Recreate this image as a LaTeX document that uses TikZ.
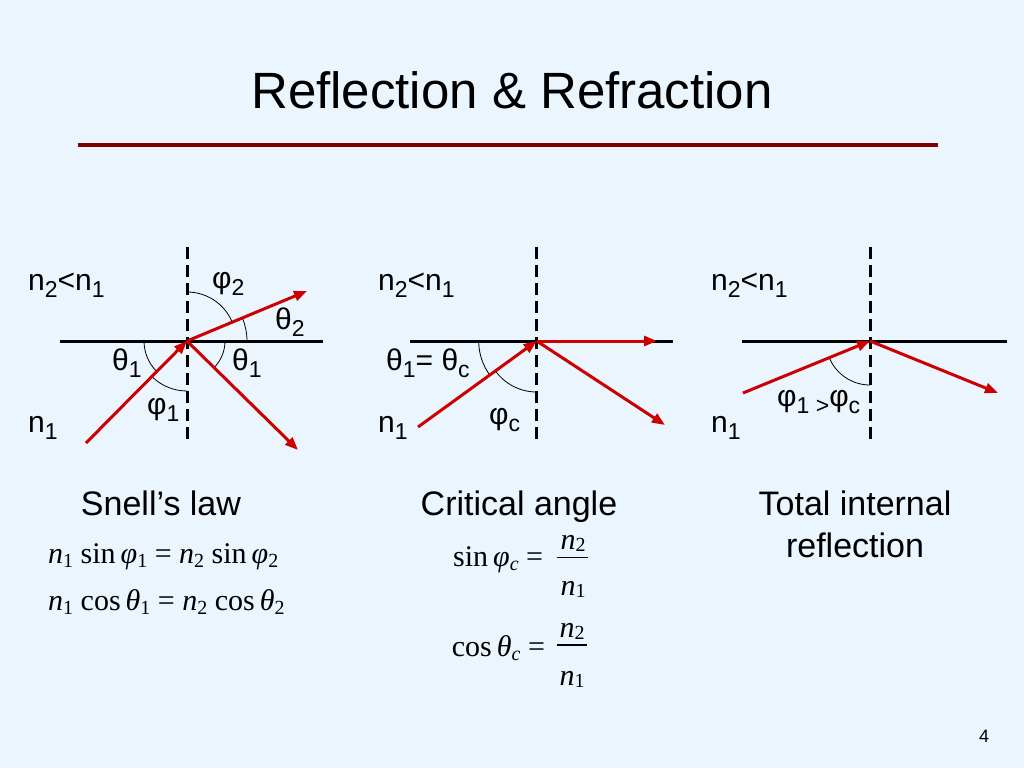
\documentclass[tikz,border=0pt]{standalone}
\usepackage{fontspec}
\usepackage{amsmath}
\setmainfont{Liberation Sans}
\newfontfamily\serifm{Liberation Serif}
\usetikzlibrary{arrows.meta}
\definecolor{bgblue}{RGB}{234,245,253}
\definecolor{rayred}{RGB}{204,0,0}
\definecolor{titlered}{RGB}{128,0,0}
\newcommand{\lsub}[1]{\raisebox{-7pt}{\fontsize{23}{23}\selectfont #1}}
\newcommand{\fsub}[1]{\raisebox{-4pt}{\fontsize{20}{20}\selectfont #1}}
\newcommand{\nsub}[1]{\raisebox{-2pt}{\fontsize{20}{20}\selectfont #1}}
\begin{document}
\begin{tikzpicture}[x=1pt,y=-1pt,
  surface/.style={line width=3pt},
  normalline/.style={line width=3pt,dash pattern=on 12pt off 6pt},
  ray/.style={rayred,line width=3pt,-{Triangle[length=13pt,width=10pt]}},
  anglearc/.style={line width=0.8pt},
  lbl/.style={inner sep=0pt,anchor=base west,font=\fontsize{30}{30}\selectfont},
  capt/.style={inner sep=0pt,anchor=base,font=\fontsize{34}{40}\selectfont},
  frm/.style={inner sep=0pt,anchor=base west,font=\serifm\fontsize{30}{30}\selectfont},
]
\fill[bgblue] (0,0) rectangle (1024,768);
\useasboundingbox (0,0) rectangle (1024,768);

% title
\node[inner sep=0pt,anchor=base,font=\fontsize{51}{51}\selectfont] (title) at (512,108.5) {Reflection \& Refraction};
\coordinate (tl) at (78,145);
\coordinate (tr) at (938,145);
\draw[titlered,line width=4.5pt] (tl) -- (tr);

% ---------- left diagram ----------
\coordinate (O1) at (187,341);
\coordinate (S1a) at (60,341);  \coordinate (S1b) at (323,341);
\coordinate (N1a) at (187,247); \coordinate (N1b) at (187,442);
\coordinate (A1) at (86,443);
\coordinate (T1) at (307,291);
\coordinate (R1) at (298,450);
\draw[surface] (S1a) -- (S1b);
\draw[normalline] (N1a) -- (N1b);
\draw[anglearc] (O1) ++(180:43) arc[start angle=180,end angle=134.7,radius=43];
\draw[anglearc] (O1) ++(134.7:50) arc[start angle=134.7,end angle=90,radius=50];
\draw[anglearc] (O1) ++(0:38) arc[start angle=0,end angle=44.6,radius=38];
\draw[anglearc] (O1) ++(-90:49) arc[start angle=-90,end angle=-22.7,radius=49];
\draw[anglearc] (O1) ++(-22.7:60) arc[start angle=-22.7,end angle=0,radius=60];
\draw[ray] (A1) -- (O1);
\draw[ray] (O1) -- (T1);
\draw[ray] (O1) -- (R1);
\node[lbl] (l1n21) at (28,290) {n\lsub{2}<n\lsub{1}};
\node[lbl] (l1phi2) at (212,288) {φ\lsub{2}};
\node[lbl] (l1th2) at (275,329) {θ\lsub{2}};
\node[lbl] (l1th1a) at (112,370) {θ\lsub{1}};
\node[lbl] (l1th1b) at (232,370) {θ\lsub{1}};
\node[lbl] (l1phi1) at (147,414) {φ\lsub{1}};
\node[lbl] (l1n1) at (28,432) {n\lsub{1}};

% ---------- middle diagram ----------
\coordinate (O2) at (536.7,341);
\coordinate (S2a) at (410,341);  \coordinate (S2b) at (673,341);
\coordinate (N2a) at (536.7,247); \coordinate (N2b) at (536.7,442);
\coordinate (A2) at (418,427);
\coordinate (T2) at (657,341);
\coordinate (R2) at (665,425);
\draw[surface] (S2a) -- (S2b);
\draw[normalline] (N2a) -- (N2b);
\draw[anglearc] (O2) ++(180:58) arc[start angle=180,end angle=144.1,radius=58];
\draw[anglearc] (O2) ++(144.1:51) arc[start angle=144.1,end angle=90,radius=51];
\draw[ray] (A2) -- (O2);
\draw[ray] (O2) -- (T2);
\draw[ray] (O2) -- (R2);
\node[lbl] (l2n21) at (378,290) {n\lsub{2}<n\lsub{1}};
\node[lbl] (l2th) at (386,370) {θ\lsub{1}= θ\lsub{c}};
\node[lbl] (l2n1) at (378,432) {n\lsub{1}};
\node[lbl] (l2phi) at (489,424) {φ\lsub{c}};

% ---------- right diagram ----------
\coordinate (O3) at (870,341);
\coordinate (S3a) at (742,341);  \coordinate (S3b) at (1007,341);
\coordinate (N3a) at (870,247); \coordinate (N3b) at (870,442);
\coordinate (A3) at (743,393);
\coordinate (R3) at (998,393);
\draw[surface] (S3a) -- (S3b);
\draw[normalline] (N3a) -- (N3b);
\draw[anglearc] (O3) ++(157.9:44) arc[start angle=157.9,end angle=90,radius=44];
\draw[ray] (A3) -- (O3);
\draw[ray] (O3) -- (R3);
\node[lbl] (l3n21) at (711,290) {n\lsub{2}<n\lsub{1}};
\node[lbl] (l3n1) at (711,432) {n\lsub{1}};
\node[lbl] (l3phi) at (777,406) {φ\lsub{1 >}φ\lsub{c}};

% ---------- captions ----------
\node[capt] (c1) at (161,515) {Snell’s law};
\node[capt] (c2) at (519,515) {Critical angle};
\node[capt] (c3a) at (855,515) {Total internal};
\node[capt] (c3b) at (855,557) {reflection};

% ---------- formulas ----------
\node[frm] (eq1) at (48,563) {{\itshape n}\fsub{1} sin\,{\itshape φ}\fsub{1} = {\itshape n}\fsub{2} sin\,{\itshape φ}\fsub{2}};
\node[frm] (eq2) at (48,610) {{\itshape n}\fsub{1} cos\,{\itshape θ}\fsub{1} = {\itshape n}\fsub{2} cos\,{\itshape θ}\fsub{2}};

\node[frm] (f1) at (453,566.7) {sin\,{\itshape φ}\fsub{\itshape c}\ =};
\node[frm,anchor=base] (f1n) at (573,549.5) {{\itshape n}\nsub{2}};
\node[frm,anchor=base] (f1d) at (573,595) {{\itshape n}\nsub{1}};
\coordinate (f1a) at (556.7,557.7); \coordinate (f1b) at (588.3,557.7);
\draw[line width=1.3pt] (f1a) -- (f1b);

\node[frm] (f2) at (451.7,656.7) {cos\,{\itshape θ}\fsub{\itshape c}\ =};
\node[frm,anchor=base] (f2n) at (572,637) {{\itshape n}\nsub{2}};
\node[frm,anchor=base] (f2d) at (572,685) {{\itshape n}\nsub{1}};
\coordinate (f2a) at (556.7,645); \coordinate (f2b) at (586.7,645);
\draw[line width=1.3pt] (f2a) -- (f2b);

% page number
\node[inner sep=0pt,anchor=base,font=\fontsize{18}{18}\selectfont] (pg) at (984,742) {4};
\end{tikzpicture}
\end{document}
